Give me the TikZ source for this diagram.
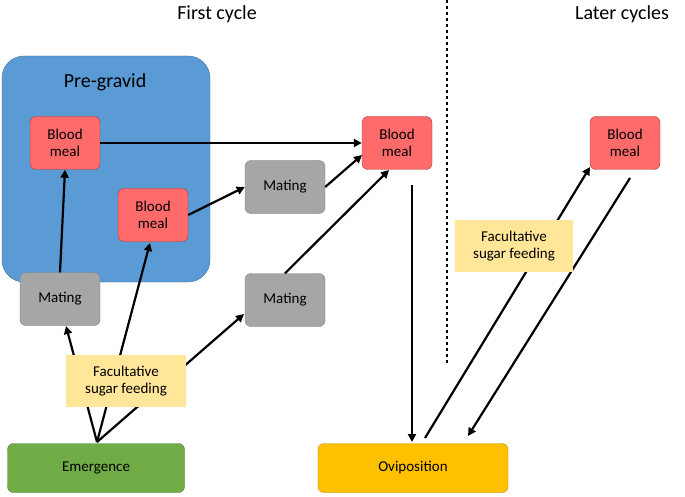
\documentclass[tikz,border=0pt]{standalone}
\usepackage{fontspec}
\setmainfont{Carlito}
\usetikzlibrary{arrows.meta}
\definecolor{blu}{HTML}{5B9BD5}
\definecolor{blub}{HTML}{41719C}
\definecolor{rd}{HTML}{FF6B6B}
\definecolor{rdb}{HTML}{B03A3A}
\definecolor{gr}{HTML}{A6A6A6}
\definecolor{grb}{HTML}{7F7F7F}
\definecolor{yl}{HTML}{FFE699}
\definecolor{gn}{HTML}{70AD47}
\definecolor{gnb}{HTML}{507E32}
\definecolor{og}{HTML}{FFC000}
\definecolor{ogb}{HTML}{BC8C00}
\begin{document}
\begin{tikzpicture}[x=1pt,y=-1pt,
 box/.style={rounded corners=6pt,align=center,font=\fontsize{15}{17}\selectfont,inner sep=0pt},
 blood/.style={box,fill=rd,draw=rdb,minimum width=70pt,minimum height=53pt},
 mate/.style={box,fill=gr,draw=grb,minimum width=80pt,minimum height=53pt},
 sugar/.style={box,fill=yl,rounded corners=0pt,minimum width=120pt,minimum height=52pt},
 arr/.style={-{Triangle[length=8pt,width=8pt]},line width=2.2pt}]
\useasboundingbox (0,0) rectangle (685,497);
\draw[fill=blu,draw=blub,rounded corners=22pt] (2,56) rectangle (210,282);
\node[font=\fontsize{20}{22}\selectfont] (pg) at (105,82) {Pre-gravid};
\node[font=\fontsize{20}{22}\selectfont] (fc) at (217,14) {First cycle};
\node[font=\fontsize{20}{22}\selectfont] (lc) at (622,14) {Later cycles};
\draw[dashed,line width=1.5pt] (447,0) -- (447,365);
\node[blood] (b1) at (65,143) {Blood\\meal};
\node[blood] (b2) at (153,215) {Blood\\meal};
\node[blood] (b3) at (397,143) {Blood\\meal};
\node[blood] (b4) at (625,143) {Blood\\meal};
\node[mate] (m1) at (60,299) {Mating};
\node[mate] (m2) at (285,187) {Mating};
\node[mate] (m3) at (285,300) {Mating};
\node[box,fill=gn,draw=gnb,minimum width=177pt,minimum height=49pt] (em) at (96,468) {Emergence};
\node[box,fill=og,draw=ogb,minimum width=190pt,minimum height=49pt] (ov) at (413,468) {Oviposition};
\draw[arr] (97,442) -- (66,326);
\draw[arr] (97,442) -- (150,243);
\draw[arr] (97,442) -- (244,314);
\draw[arr] (m1.north) -- (b1.south);
\draw[arr] (b1.east) -- (b3.west);
\draw[arr] (b2.east) -- (m2.west);
\draw[arr] (m2.east) -- (362,155);
\draw[arr] (m3.north) -- (389,170);
\draw[arr] (412,185) -- (412,442);
\draw[arr] (425,438) -- (590,167);
\draw[arr] (630,178) -- (468,436);
\node[sugar] (s1) at (126,381) {Facultative\\sugar feeding};
\node[sugar,minimum width=118pt] (s2) at (514,246) {Facultative\\sugar feeding};
\end{tikzpicture}
\end{document}
